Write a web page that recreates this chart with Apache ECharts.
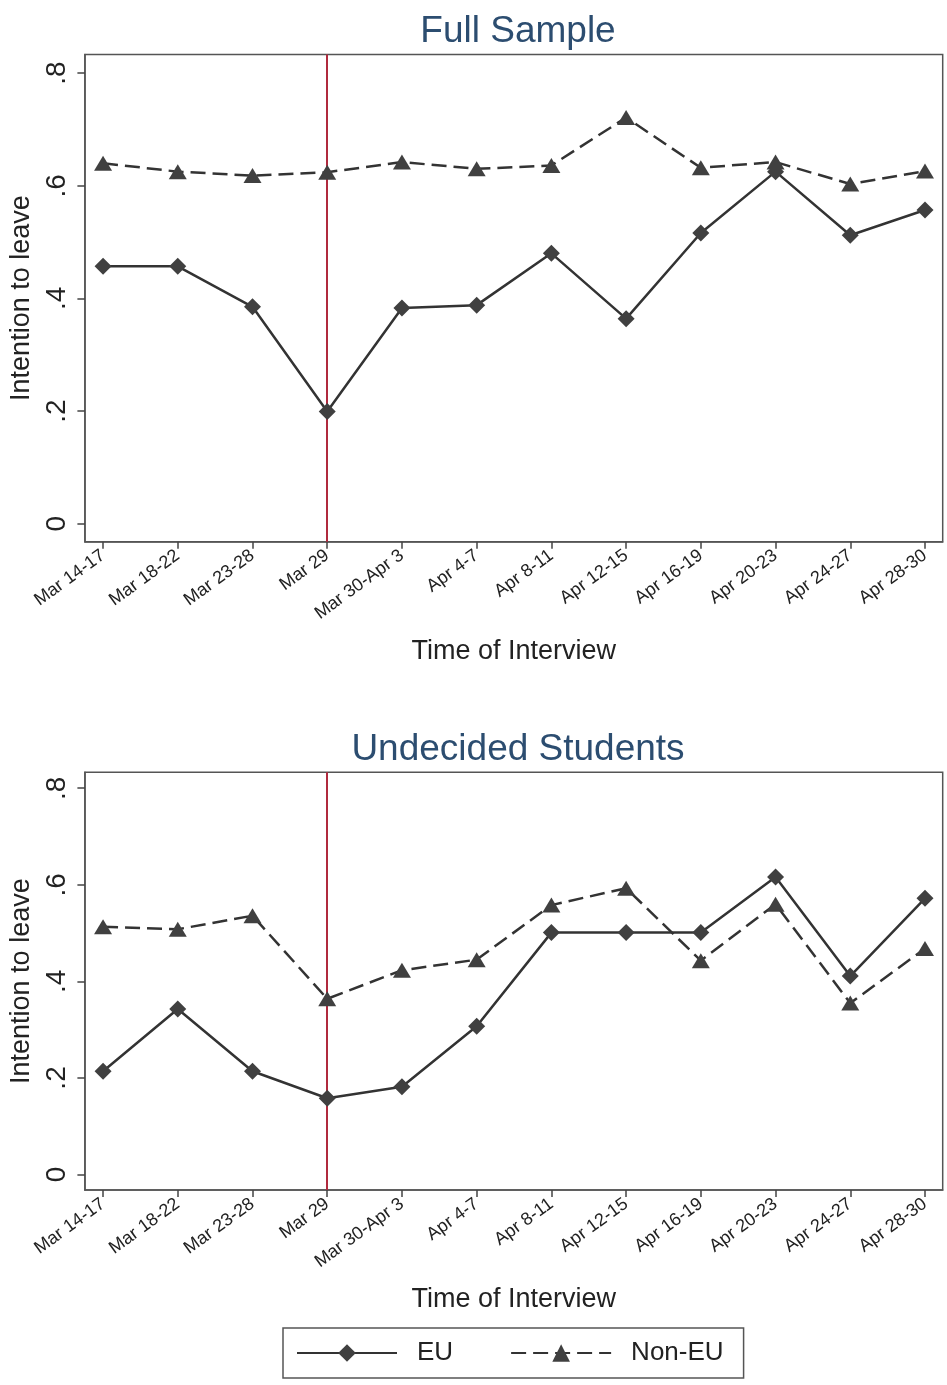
<!DOCTYPE html>
<html>
<head>
<meta charset="utf-8">
<script src="https://cdn.jsdelivr.net/npm/echarts@6/dist/echarts.min.js"></script>
<style>
  html, body { margin: 0; padding: 0; background: #ffffff; }
  #chart { width: 947px; height: 1385px; }
</style>
</head>
<body>
<div id="chart"></div>
<script>
// Interview periods (x categories)
const periods = ['Mar 14-17', 'Mar 18-22', 'Mar 23-28', 'Mar 29', 'Mar 30-Apr 3', 'Apr 4-7',
                 'Apr 8-11', 'Apr 12-15', 'Apr 16-19', 'Apr 20-23', 'Apr 24-27', 'Apr 28-30'];

// Share intending to leave, full sample
const fullEU    = [0.457, 0.457, 0.385, 0.199, 0.383, 0.388, 0.480, 0.364, 0.516, 0.625, 0.512, 0.557];
const fullNonEU = [0.640, 0.625, 0.618, 0.624, 0.642, 0.630, 0.636, 0.721, 0.632, 0.642, 0.603, 0.626];

// Share intending to leave, undecided students
const undecidedEU    = [0.214, 0.343, 0.214, 0.158, 0.182, 0.307, 0.501, 0.501, 0.501, 0.616, 0.411, 0.572];
const undecidedNonEU = [0.513, 0.508, 0.536, 0.364, 0.423, 0.445, 0.558, 0.593, 0.443, 0.560, 0.355, 0.468];

const yTicks = [0, 0.2, 0.4, 0.6, 0.8];
const eventPeriod = 'Mar 29';
const panelTitles = ['Full Sample', 'Undecided Students'];
const seriesNames = ['EU', 'Non-EU'];
const xAxisTitle = 'Time of Interview';
const yAxisTitle = 'Intention to leave';

const FONT = '"Liberation Sans", Arial, Helvetica, sans-serif';
const INK = '#333333';
const FRAME = '#555555';

// plot boxes for the two panels
const boxes = [
  { top: 54.5, height: 487.2 },
  { top: 772.3, height: 417.7 }
];
const boxLeft = 83.5, boxRight = 4.3;
const boxCenterX = 513;

const xIdx = periods.map((p, i) => i);
const fmtY = v => v === 0 ? '0' : v.toFixed(1).replace(/^0/, '');

const grids = [], xAxes = [], yAxes = [], titles = [], series = [];

const panels = [
  { eu: fullEU, non: fullNonEU },
  { eu: undecidedEU, non: undecidedNonEU }
];

panels.forEach((pnl, k) => {
  const b = boxes[k];
  grids.push({
    left: boxLeft, right: boxRight, top: b.top, height: b.height,
    show: true, borderColor: FRAME, borderWidth: 1.5, backgroundColor: '#ffffff'
  });
  titles.push({
    text: panelTitles[k],
    left: boxCenterX,
    textAlign: 'center',
    top: b.top - 46,
    textStyle: { fontFamily: FONT, fontSize: 37, fontWeight: 'normal', color: '#2c4d70' }
  });
  xAxes.push({
    gridIndex: k, type: 'value', min: -0.243, max: 11.237,
    splitLine: { show: false },
    axisLine: { show: true, onZero: false, lineStyle: { color: FRAME, width: 1.5 } },
    axisTick: { show: true, customValues: xIdx, length: 7, lineStyle: { color: '#444', width: 1.5 } },
    axisLabel: {
      customValues: xIdx, rotate: 36, margin: 12,
      formatter: v => periods[v],
      fontFamily: FONT, fontSize: 18, color: '#222'
    },
    name: xAxisTitle, nameLocation: 'middle', nameGap: 96,
    nameTextStyle: { fontFamily: FONT, fontSize: 27, color: '#222' }
  });
  yAxes.push({
    gridIndex: k, type: 'value', min: -0.032, max: 0.833,
    splitLine: { show: false },
    axisLine: { show: true, onZero: false, lineStyle: { color: FRAME, width: 1.5 } },
    axisTick: { show: true, customValues: yTicks, length: 7.5, lineStyle: { color: '#444', width: 1.5 } },
    axisLabel: {
      customValues: yTicks, rotate: 90, margin: 14,
      formatter: fmtY,
      fontFamily: FONT, fontSize: 28, color: '#222'
    },
    name: yAxisTitle, nameLocation: 'middle', nameGap: 45,
    nameTextStyle: { fontFamily: FONT, fontSize: 27, color: '#222' }
  });

  series.push({
    name: seriesNames[0], type: 'line', xAxisIndex: k, yAxisIndex: k,
    data: pnl.eu.map((v, i) => [i, v]),
    symbol: 'diamond', symbolSize: 17,
    lineStyle: { color: INK, width: 2.5 },
    itemStyle: { color: '#404040' },
    emphasis: { disabled: true },
    z: 3,
    markLine: {
      silent: true, symbol: 'none', label: { show: false },
      lineStyle: { color: '#b02a3e', width: 2, type: 'solid' },
      data: [{ xAxis: periods.indexOf(eventPeriod) }],
      z: 1
    }
  });
  series.push({
    name: seriesNames[1], type: 'line', xAxisIndex: k, yAxisIndex: k,
    data: pnl.non.map((v, i) => [i, v]),
    symbol: 'triangle', symbolSize: [18, 15],
    lineStyle: { color: INK, width: 2.5, type: [15, 7] },
    itemStyle: { color: '#404040' },
    emphasis: { disabled: true },
    z: 3
  });
});

const chart = echarts.init(document.getElementById('chart'), null, { renderer: 'canvas' });
chart.setOption({
  animation: false,
  backgroundColor: '#ffffff',
  title: titles,
  grid: grids,
  xAxis: xAxes,
  yAxis: yAxes,
  legend: {
    data: seriesNames,
    left: 283, top: 1328,
    orient: 'horizontal',
    itemWidth: 100, itemHeight: 22, itemGap: 57,
    padding: [12, 20, 12, 13],
    borderColor: FRAME, borderWidth: 1.5,
    selectedMode: false,
    textStyle: { fontFamily: FONT, fontSize: 26, color: '#222', padding: [0, 0, 0, 15] }
  },
  series: series
});
</script>
</body>
</html>
